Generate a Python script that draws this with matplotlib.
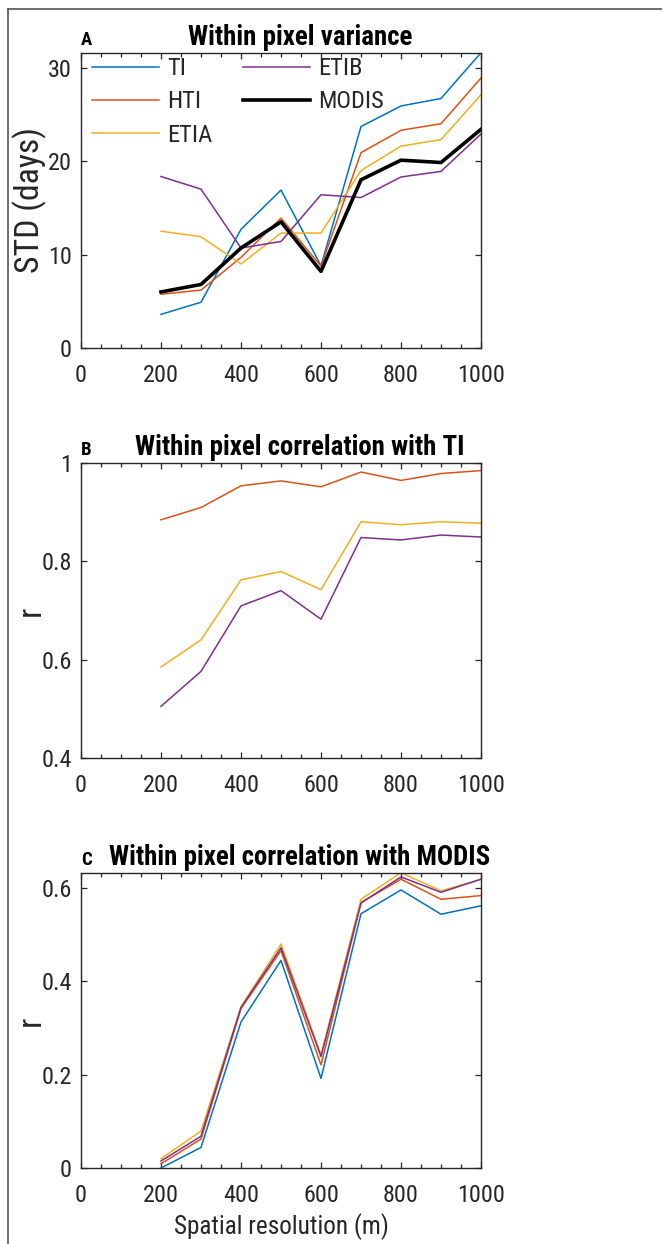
import numpy as np
import matplotlib
matplotlib.use("Agg")
import matplotlib.pyplot as plt
from matplotlib.ticker import MultipleLocator
from matplotlib.lines import Line2D
from matplotlib import font_manager
from matplotlib.font_manager import FontProperties
from matplotlib.textpath import TextPath

# pick a narrow sans if there is one (reference text is horizontally squeezed)
names = {f.name for f in font_manager.fontManager.ttflist}
family = 'Liberation Sans'
for cand in ['Liberation Sans Narrow', 'DejaVu Sans Condensed', 'Roboto Condensed',
             'Open Sans Condensed', 'Arial Narrow']:
    if cand in names:
        family = cand
        break
plt.rcParams['font.family'] = [family, 'Liberation Sans', 'DejaVu Sans']

res = [200, 300, 400, 500, 600, 700, 800, 900, 1000]

# A: within pixel variance (STD, days)
std_ti    = [3.6, 4.9, 12.7, 16.9, 8.8, 23.7, 25.9, 26.7, 31.6]
std_hti   = [5.75, 6.2, 9.7, 13.9, 8.75, 20.9, 23.3, 24.0, 28.9]
std_etia  = [12.5, 11.9, 9.0, 12.3, 12.3, 19.0, 21.6, 22.3, 27.1]
std_etib  = [18.35, 17.0, 10.7, 11.4, 16.4, 16.1, 18.3, 18.9, 22.9]
std_modis = [6.0, 6.8, 10.7, 13.5, 8.2, 18.0, 20.1, 19.85, 23.4]

# B: correlation with TI
rti_hti  = [0.884, 0.909, 0.953, 0.963, 0.951, 0.981, 0.964, 0.978, 0.984]
rti_etia = [0.585, 0.640, 0.762, 0.779, 0.742, 0.880, 0.874, 0.880, 0.877]
rti_etib = [0.505, 0.576, 0.709, 0.740, 0.682, 0.848, 0.843, 0.853, 0.849]

# C: correlation with MODIS
rmo_ti   = [0.0, 0.044, 0.313, 0.445, 0.192, 0.545, 0.596, 0.544, 0.562]
rmo_hti  = [0.009, 0.062, 0.342, 0.466, 0.221, 0.569, 0.619, 0.576, 0.584]
rmo_etib = [0.015, 0.068, 0.344, 0.472, 0.239, 0.568, 0.624, 0.591, 0.619]
rmo_etia = [0.020, 0.079, 0.346, 0.480, 0.243, 0.576, 0.633, 0.594, 0.619]

c_ti, c_hti, c_etia, c_etib = '#0072BD', '#D95319', '#EDB120', '#7E2F8E'
axcol = '#262626'
W, H = 662, 1244


def fit_size(s, nominal, target_px, weight='normal', blend=1.0):
    # font size (pt) that gives text s about target_px wide at 100 dpi
    fp = FontProperties(family=[family, 'Liberation Sans'], weight=weight, size=nominal)
    wpx = TextPath((0, 0), s, size=nominal, prop=fp).get_extents().width * 100/72
    return nominal * (target_px/wpx)**blend


tick_fs = fit_size('1000', 18, 40, blend=0.25)
lab_fs = fit_size('Spatial resolution (m)', 19.8, 213)
ylab_fs = fit_size('STD (days)', 19.8, 142)
leg_fs = fit_size('MODIS', 18, 59, blend=0.3)
title_fs = min(fit_size('Within pixel variance', 19.5, 224, 'bold'),
               fit_size('Within pixel correlation with MODIS', 19.5, 380, 'bold'))
leg_px = leg_fs*100/72

fig = plt.figure(figsize=(W/100, H/100), dpi=100)

def make_axes(top_px):
    return fig.add_axes([81/W, (H-top_px-295.3)/H, 400/W, 295.3/H])

ax1 = make_axes(52.7)
ax2 = make_axes(462.7)
ax3 = make_axes(872.7)
ax = [ax1, ax2, ax3]

lw = 1.1
ax1.plot(res, std_ti, color=c_ti, lw=lw, label='TI')
ax1.plot(res, std_hti, color=c_hti, lw=lw, label='HTI')
ax1.plot(res, std_etia, color=c_etia, lw=lw, label='ETIA')
ax1.plot(res, std_etib, color=c_etib, lw=lw, label='ETIB')
ax1.plot(res, std_modis, color='black', lw=2.6, label='MODIS')
ax1.set_ylim(0, max(max(std_ti), max(std_hti), max(std_etia), max(std_etib), max(std_modis)))
ax1.yaxis.set_major_locator(MultipleLocator(10))

ax2.plot(res, rti_hti, color=c_hti, lw=lw)
ax2.plot(res, rti_etia, color=c_etia, lw=lw)
ax2.plot(res, rti_etib, color=c_etib, lw=lw)
ax2.set_ylim(0.4, 1)
ax2.set_yticks([0.4, 0.6, 0.8, 1.0])
ax2.set_yticklabels(['0.4', '0.6', '0.8', '1'])

ax3.plot(res, rmo_ti, color=c_ti, lw=lw)
ax3.plot(res, rmo_hti, color=c_hti, lw=lw)
ax3.plot(res, rmo_etia, color=c_etia, lw=lw)
ax3.plot(res, rmo_etib, color=c_etib, lw=lw)
ax3.set_ylim(0, max(max(rmo_ti), max(rmo_hti), max(rmo_etia), max(rmo_etib)))
ax3.set_yticks([0, 0.2, 0.4, 0.6])
ax3.set_yticklabels(['0', '0.2', '0.4', '0.6'])

titles = ['Within pixel variance', 'Within pixel correlation with TI',
          'Within pixel correlation with MODIS']
letters = ['A', 'B', 'C']
ylabels = ['STD (days)', 'r', 'r']

for a, t, l, yl in zip(ax, titles, letters, ylabels):
    a.set_xlim(0, 1000)
    a.xaxis.set_major_locator(MultipleLocator(200))
    a.xaxis.set_minor_locator(MultipleLocator(50))
    a.tick_params(axis='both', which='both', direction='in', top=True, right=True,
                  colors=axcol, labelsize=tick_fs)
    a.tick_params(axis='both', which='major', length=4.5, width=0.9)
    a.tick_params(axis='x', which='minor', length=3, width=0.9)
    a.tick_params(axis='x', which='major', pad=11.5)
    a.tick_params(axis='y', which='major', pad=6.5)
    for s in a.spines.values():
        s.set_color(axcol)
        s.set_linewidth(1.0)
    a.text(0.5475, 1 + 8/295.3, t, transform=a.transAxes, ha='center', va='baseline',
           fontsize=title_fs, fontweight='bold', color='black')
    a.text(0.0, 1 + 8/295.3, l, transform=a.transAxes, ha='left', va='baseline',
           fontsize=13.5, fontweight='bold', color='black')
    a.set_ylabel(yl, fontsize=ylab_fs, color=axcol)
    a.yaxis.set_label_coords(-0.085, 0.5)

ax3.set_xlabel('Spatial resolution (m)', fontsize=lab_fs, color=axcol)
ax3.xaxis.set_label_coords(0.5, -0.152)

leg = ax1.legend(ncol=2, loc='upper left', bbox_to_anchor=(0.0275, 0.985), frameon=False,
                 fontsize=leg_fs, handlelength=67/leg_px, handletextpad=8/leg_px,
                 columnspacing=1.1 + 4/leg_px, labelspacing=0.42, borderpad=0,
                 borderaxespad=0)
for txt in leg.get_texts():
    txt.set_color(axcol)

# outer frame (left and top edge only visible)
fig.add_artist(Line2D([8/W, 8/W], [0, 1 - 9/H], color='#555555', lw=1.2))
fig.add_artist(Line2D([8/W, 1], [1 - 9/H, 1 - 9/H], color='#555555', lw=1.2))

fig.savefig('out.png', dpi=100)
plt.close(fig)
